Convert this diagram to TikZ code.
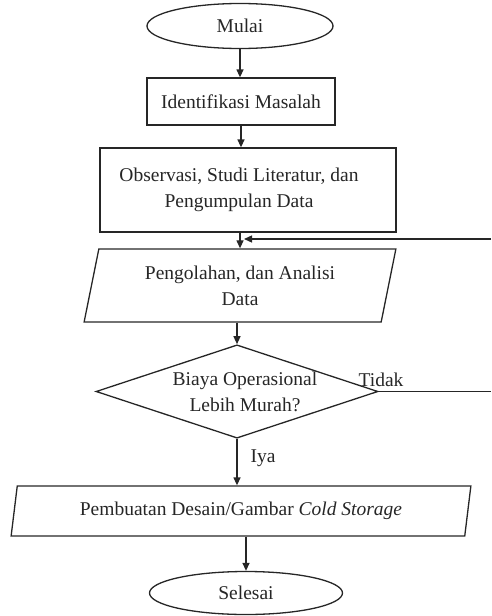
\documentclass[tikz,border=0pt]{standalone}
\usepackage{fontspec}
\setmainfont{Liberation Serif}
\usetikzlibrary{shapes.geometric,arrows.meta}
\begin{document}
\begin{tikzpicture}[x=1pt,y=-1pt,
  every node/.style={font=\fontsize{19.5}{26}\selectfont, text=black!85},
  shp/.style={draw=black!85, line width=1.3pt, inner sep=0pt},
  ell/.style={shp, ellipse},
  rectbox/.style={shp, rectangle},
  para/.style={shp, trapezium, trapezium left angle=76, trapezium right angle=104, trapezium stretches},
  dec/.style={shp, diamond, aspect=3},
  arr/.style={draw=black!85, line width=1.3pt, -{Triangle[length=8pt,width=7pt]}},
  ln/.style={draw=black!85, line width=1.3pt},
  lbl/.style={inner sep=0pt}]
\useasboundingbox (0,0) rectangle (491,616);
\node[ell, minimum width=186pt, minimum height=45pt] (mulai) at (240,26) {Mulai};
\node[rectbox, minimum width=188pt, minimum height=47pt] (ident) at (241,101.5) {Identifikasi Masalah};
\node[rectbox, minimum width=296pt, minimum height=84pt, align=center] (obs) at (248,190) {Observasi, Studi Literatur, dan\hspace*{18pt}\\Pengumpulan Data\hspace*{18pt}};
\node[para, minimum width=312pt, minimum height=73pt, align=center] (olah) at (240,285.5) {Pengolahan, dan Analisi\\Data};
\node[dec, minimum width=282pt, minimum height=93pt, align=center] (biaya) at (237,391.5) {\hspace*{16pt}Biaya Operasional\\\hspace*{16pt}Lebih Murah?};
\node[para, minimum width=462pt, minimum height=50pt] (desain) at (241,511) {Pembuatan Desain/Gambar \textit{Cold Storage}};
\node[ell, minimum width=193pt, minimum height=43pt] (selesai) at (246,593) {Selesai};
\node[lbl] (tidak) at (381,380) {Tidak};
\node[lbl] (iya) at (263,458) {Iya};
\coordinate (fbin) at (491,239);
\coordinate (fbout) at (491,391.5);
\coordinate (join) at (244,239);
\draw[arr] (mulai.south) -- (mulai.south |- ident.north);
\draw[arr] (ident.south) -- (ident.south |- obs.north);
\draw[arr] (olah.north |- obs.south) -- (olah.north);
\draw[arr] (fbin) -- (join);
\draw[arr] (biaya.north |- olah.south) -- (biaya.north);
\draw[ln] (biaya.east) -- (fbout);
\draw[arr] (biaya.south) -- (biaya.south |- desain.north);
\draw[arr] (selesai.north |- desain.south) -- (selesai.north);
\end{tikzpicture}
\end{document}
